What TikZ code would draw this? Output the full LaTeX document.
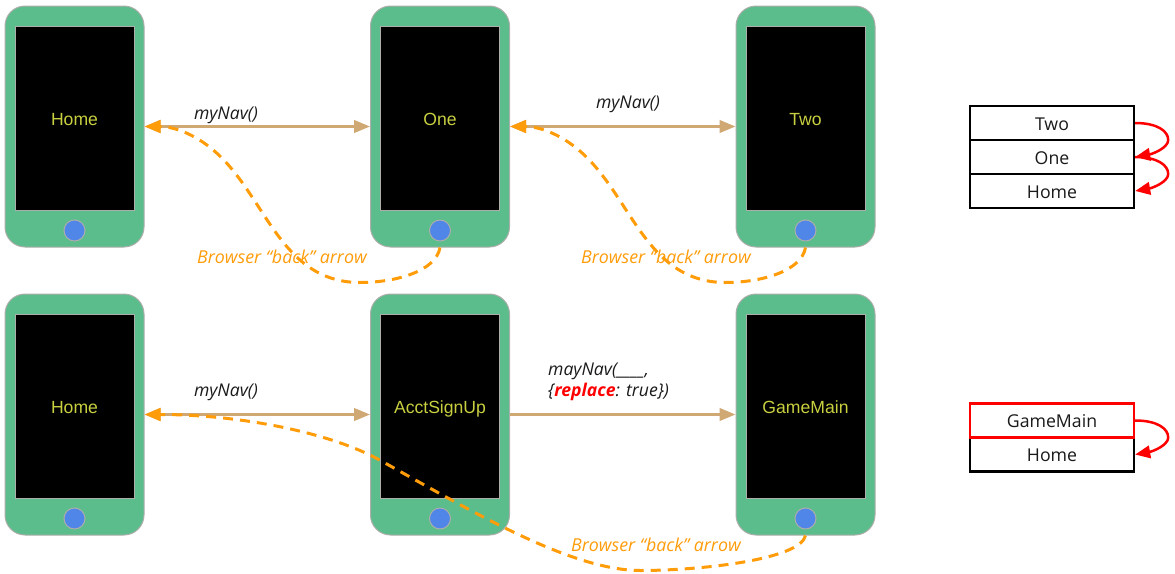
\documentclass[tikz,border=0pt]{standalone}
\usepackage{fontspec}
\setmainfont{Open Sans}
\newfontfamily\arialfont{Liberation Sans}
\usetikzlibrary{arrows.meta,calc}
\definecolor{phonegreen}{HTML}{5BBD8B}
\definecolor{phonegrey}{HTML}{ABAEAB}
\definecolor{btnblue}{HTML}{4F86E8}
\definecolor{scrtext}{HTML}{C8D040}
\definecolor{navtan}{HTML}{CFA873}
\definecolor{backorange}{HTML}{FF9C0A}
\definecolor{txtdark}{HTML}{1A1A1A}
\tikzset{
  phonebody/.style={draw=phonegrey,fill=phonegreen,line width=1pt,rounded corners=20pt,minimum width=139pt,minimum height=241pt,inner sep=0pt},
  phonescreen/.style={draw=phonegrey,fill=black,line width=1pt,minimum width=119pt,minimum height=184pt,inner sep=0pt},
  phonetext/.style={text=scrtext,font=\arialfont\fontsize{17.6pt}{20pt}\selectfont,inner sep=0pt,text height=12.6pt,text depth=0pt},
  phonebtn/.style={draw=phonegrey,fill=btnblue,line width=1pt,circle,minimum size=21pt,inner sep=0pt},
  navarrow/.style={draw=navtan,line width=2.6pt,-{Triangle[length=16pt,width=12.5pt]}},
  navboth/.style={navarrow,{Triangle[length=16pt,width=12.5pt]}-{Triangle[length=16pt,width=12.5pt]}},
  backarrow/.style={draw=backorange,line width=3pt,dash pattern=on 10pt off 7pt,-{Triangle[length=16pt,width=12.5pt,fill=backorange]}},
  navlabel/.style={font=\itshape\fontsize{17.6pt}{21pt}\selectfont,text=txtdark,inner sep=0pt},
  backlabel/.style={font=\itshape\fontsize{17.8pt}{20pt}\selectfont,text=backorange,inner sep=0pt},
  stackcell/.style={draw=black,fill=white,line width=2.4pt,minimum width=164pt,minimum height=34pt,inner sep=0pt,text=txtdark,font=\fontsize{17.7pt}{20pt}\selectfont,text height=14pt,text depth=0pt},
  stackred/.style={stackcell,draw=red},
  stackarrow/.style={draw=red,line width=2.5pt,-{Triangle[length=15pt,width=12.5pt]}},
}
\newcommand{\phonedraw}[4]{%
  \node[phonebody] (#1) at (#2,#3) {};
  \node[phonescreen] (#1s) at (#2,#3-8) {};
  \node[phonetext] (#1t) at (#2,#3-7.8) {#4};
  \node[phonebtn] (#1b) at (#2,#3+104) {};
}
\begin{document}
\begin{tikzpicture}[x=1pt,y=-1pt]
\useasboundingbox (0,0) rectangle (1175,573);
\phonedraw{homeA}{74.5}{126.5}{Home}
\phonedraw{one}{440}{126.5}{One}
\phonedraw{two}{805.5}{126.5}{Two}
\phonedraw{homeB}{74.5}{414.5}{Home}
\phonedraw{acct}{440}{414.5}{AcctSignUp}
\phonedraw{game}{805.5}{414.5}{GameMain}
% navigation arrows
\draw[navboth] (homeA.east) -- (one.west);
\draw[navboth] (one.east) -- (two.west);
\draw[navboth] (homeB.east) -- (acct.west);
\draw[navarrow] (acct.east) -- (game.west);
% labels
\node[navlabel] (l1) at (226,115) {myNav()};
\node[navlabel] (l2) at (628,104) {myNav()};
\node[navlabel] (l3) at (226,392) {myNav()};
\node[navlabel,anchor=north west,align=left] (l4) at (548,362.5) {mayNav(\_\_\_\_,\\\{\textcolor{red}{\textbf{replace}}: true\})};
\node[backlabel] (b1) at (282,257) {Browser “back” arrow};
\node[backlabel] (b2) at (666,257) {Browser “back” arrow};
\node[backlabel] (b3) at (656,545) {Browser “back” arrow};
% browser back arrows
\draw[backarrow] (one.south) .. controls +(-4,24) and +(35,0) .. ++(-80,35) .. controls +(-70,0) and +(37,45) .. ++(-127,-112) .. controls +(-28,-35) and +(30,0) .. (homeA.east);
\draw[backarrow] (two.south) .. controls +(-4,24) and +(35,0) .. ++(-80,35) .. controls +(-70,0) and +(37,45) .. ++(-127,-112) .. controls +(-28,-35) and +(30,0) .. (one.east);
\draw[backarrow] (game.south) .. controls +(-5,24) and +(60,0) .. ++(-165,35) .. controls +(-70,0) and +(90,50) .. ++(-260,-110) .. controls +(-50,-28) and +(95,0) .. (homeB.east);
% stacks
\node[stackcell] (sTwo) at (1052,123) {Two};
\node[stackcell] (sOne) at (1052,157) {One};
\node[stackcell] (sHome) at (1052,191) {Home};
\node[stackcell] (sHome2) at (1052,454.5) {Home};
\node[stackred] (sGame) at (1052,420.5) {GameMain};
\draw[stackarrow] (sTwo.east) .. controls +(22,0) and +(0,-9) .. ++(33,17) .. controls +(0,8) and +(17,-3) .. (sOne.east);
\draw[stackarrow] (sOne.east) .. controls +(22,0) and +(0,-9) .. ++(33,17) .. controls +(0,8) and +(17,-3) .. (sHome.east);
\draw[stackarrow] (sGame.east) .. controls +(22,0) and +(0,-9) .. ++(33,17) .. controls +(0,8) and +(17,-3) .. (sHome2.east);
\end{tikzpicture}
\end{document}
